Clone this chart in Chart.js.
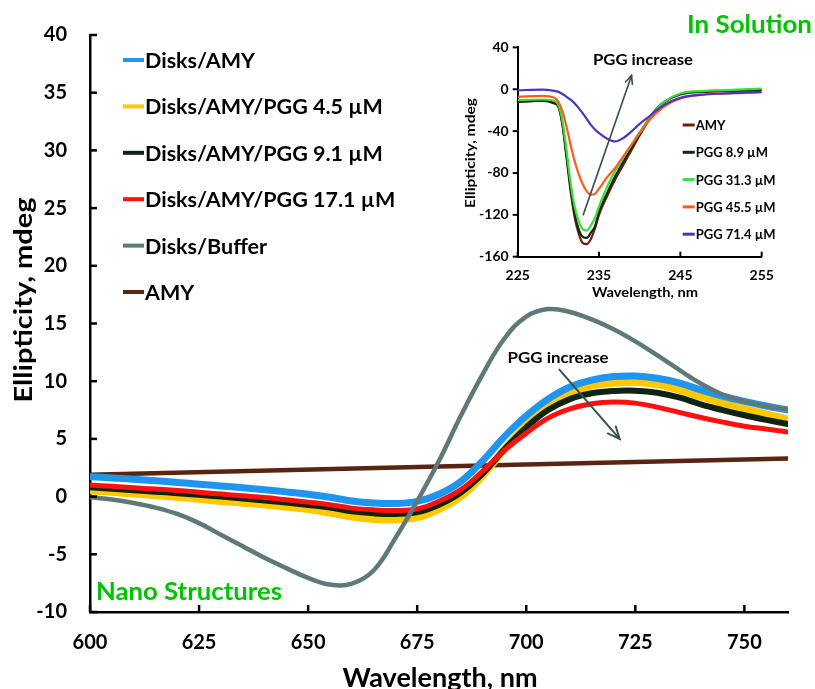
<!DOCTYPE html>
<html>
<head>
<meta charset="utf-8">
<script src="https://cdn.jsdelivr.net/npm/chart.js@4.4.1/dist/chart.umd.min.js"></script>
<style>
  html, body { margin: 0; padding: 0; background: #fff; }
  #wrap { position: relative; width: 815px; height: 689px; overflow: hidden; }
  #main { position: absolute; left: 0; top: 0; }
  #inset { position: absolute; left: 455px; top: 30px; }
</style>
</head>
<body>
<div id="wrap">
  <canvas id="main" width="815" height="689"></canvas>
  <canvas id="inset" width="330" height="275"></canvas>
</div>
<script>
// ---------- Main panel data (Nano Structures) ----------
const mainXTicks = [600, 625, 650, 675, 700, 725, 750];
const mainYTicks = [-10, -5, 0, 5, 10, 15, 20, 25, 30, 35, 40];
const mainWavelengths = [600, 605, 610, 615, 620, 625, 630, 635, 640, 645, 650, 655, 660, 665, 670, 675, 680, 685, 690, 695, 700, 705, 710, 715, 720, 725, 730, 735, 740, 745, 750, 755, 760];
const disksAmy       = [1.73, 1.62, 1.5, 1.37, 1.23, 1.08, 0.92, 0.77, 0.6, 0.41, 0.2, -0.05, -0.38, -0.56, -0.6, -0.42, 0.2, 1.3, 3.1, 5.2, 7.0, 8.45, 9.5, 10.1, 10.4, 10.45, 10.25, 9.85, 9.25, 8.7, 8.25, 7.85, 7.5];
const disksAmyPgg45  = [0.52, 0.39, 0.25, 0.1, -0.05, -0.22, -0.4, -0.55, -0.7, -0.9, -1.1, -1.4, -1.75, -1.95, -2.0, -1.8, -1.1, 0.0, 1.8, 4.1, 6.2, 7.9, 9.0, 9.6, 9.85, 9.9, 9.7, 9.25, 8.65, 8.1, 7.6, 7.15, 6.7];
const disksAmyPgg91  = [0.8, 0.68, 0.55, 0.43, 0.3, 0.15, 0.0, -0.16, -0.33, -0.52, -0.72, -0.95, -1.28, -1.45, -1.5, -1.35, -0.7, 0.35, 2.0, 4.1, 6.0, 7.5, 8.45, 8.95, 9.15, 9.17, 9.0, 8.6, 8.0, 7.5, 7.05, 6.65, 6.28];
const disksAmyPgg171 = [1.0, 0.89, 0.77, 0.65, 0.53, 0.38, 0.22, 0.07, -0.08, -0.28, -0.48, -0.7, -1.0, -1.15, -1.2, -1.08, -0.4, 0.6, 2.2, 4.0, 5.5, 6.8, 7.6, 8.05, 8.2, 8.1, 7.75, 7.3, 6.85, 6.45, 6.1, 5.85, 5.6];
const disksBuffer    = [-0.06, -0.25, -0.55, -0.95, -1.5, -2.3, -3.3, -4.3, -5.3, -6.2, -7.05, -7.62, -7.55, -6.4, -3.6, -0.4, 3.1, 7.0, 10.6, 13.7, 15.6, 16.25, 16.0, 15.35, 14.5, 13.45, 12.25, 11.0, 9.8, 8.85, 8.25, 7.85, 7.6];
const amyWavelengths = [600, 680, 760];
const amyMain = [1.9, 2.6, 3.3];
// arrow "PGG increase" (start wl, start val, end wl, end val)
const mainArrow = [707.6, 11.0, 721.4, 5.0];

// ---------- Inset data (In Solution) ----------
const insetXTicks = [225, 235, 245, 255];
const insetYTicks = [-160, -120, -80, -40, 0, 40];
const insetWavelengths = [225, 228, 229.5, 230, 230.5, 231, 231.5, 232, 232.5, 233, 233.5, 234, 234.5, 235, 236, 237, 238, 239, 240, 241, 242, 243, 245, 248, 250, 255];
const insetAmy    = [-12, -11, -13.5, -16.7, -34, -65, -97, -122, -138, -147, -148, -143, -133, -120, -102, -86, -72, -58, -44, -31, -20, -12.5, -5, -2.5, -1.9, -1];
const insetPgg89  = [-12, -11, -13, -16, -33, -63, -94, -119, -134, -141, -142, -137, -131, -117, -99, -83, -69, -56, -43, -30, -19, -12, -4.5, -2, -1.5, -0.5];
const insetPgg313 = [-10.4, -9.8, -11, -15, -30, -58, -89, -112, -126, -134, -135, -130, -123, -112, -93, -78, -65, -53, -41, -30, -19.5, -12, -4, -1.5, -1, 0.6];
const insetPgg455 = [-7.2, -6.3, -8.2, -12, -21, -35.6, -53, -68.7, -81, -90.7, -97.6, -100.8, -100, -95, -84, -75, -64, -53, -42, -31, -23, -16.5, -8.8, -5, -4.1, -3.1];
const insetPgg714 = [-1, -0.3, -1.5, -2.5, -4.5, -7.2, -10, -13.5, -18, -23, -28.5, -34, -38.5, -42, -47.2, -49.8, -46.6, -40.3, -33, -27, -20.5, -15, -8.2, -5, -4.1, -2.5];
const insetArrow = [233.07, -119.8, 239.0, 13.2];

const FONT = 'Lato, "Open Sans", sans-serif';
const pairs = (xs, ys) => xs.map((x, i) => ({ x, y: ys[i] }));

function drawText(ctx, t, x, y) {
  ctx.save();
  ctx.font = t.font; ctx.fillStyle = t.color || '#000';
  ctx.textAlign = t.align || 'center'; ctx.textBaseline = t.baseline || 'middle';
  ctx.translate(x, y);
  if (t.rot) ctx.rotate(t.rot);
  if (t.fit) ctx.scale(t.fit / ctx.measureText(t.text).width, 1);
  ctx.fillText(t.text, 0, 0);
  ctx.restore();
}

// plugin: inward ticks, arrows, texts, custom legend
const decor = {
  id: 'decor',
  afterDraw(chart, args, o) {
    const { ctx, chartArea: a } = chart;
    const xs = chart.scales.x, ys = chart.scales.y;
    ctx.save();
    ctx.strokeStyle = '#000';
    ctx.lineWidth = o.tickWidth;
    xs.ticks.forEach(t => {
      const p = xs.getPixelForValue(t.value);
      ctx.beginPath(); ctx.moveTo(p, a.bottom); ctx.lineTo(p, a.bottom - o.xTickLen); ctx.stroke();
    });
    ys.ticks.forEach(t => {
      const p = ys.getPixelForValue(t.value);
      ctx.beginPath(); ctx.moveTo(a.left, p); ctx.lineTo(a.left + o.yTickLen, p); ctx.stroke();
    });
    (o.arrows || []).forEach(ar => {
      const x1 = xs.getPixelForValue(ar.pts[0]), y1 = ys.getPixelForValue(ar.pts[1]);
      const x2 = xs.getPixelForValue(ar.pts[2]), y2 = ys.getPixelForValue(ar.pts[3]);
      ctx.strokeStyle = ar.color; ctx.lineWidth = ar.width; ctx.lineCap = 'round';
      ctx.beginPath(); ctx.moveTo(x1, y1); ctx.lineTo(x2, y2); ctx.stroke();
      const ang = Math.atan2(y2 - y1, x2 - x1);
      ctx.beginPath();
      ctx.moveTo(x2 - ar.head * Math.cos(ang - 0.42), y2 - ar.head * Math.sin(ang - 0.42));
      ctx.lineTo(x2, y2);
      ctx.lineTo(x2 - ar.head * Math.cos(ang + 0.42), y2 - ar.head * Math.sin(ang + 0.42));
      ctx.stroke();
    });
    (o.dataTexts || []).forEach(t => drawText(ctx, t, xs.getPixelForValue(t.x), ys.getPixelForValue(t.y)));
    (o.texts || []).forEach(t => drawText(ctx, t, t.px, t.py));
    const L = o.legend;
    if (L) {
      chart.data.datasets.forEach((ds, i) => {
        const y = L.y0 + i * L.step;
        ctx.strokeStyle = ds.borderColor; ctx.lineWidth = L.lineW; ctx.lineCap = 'butt';
        ctx.beginPath(); ctx.moveTo(L.x0, y); ctx.lineTo(L.x0 + L.len, y); ctx.stroke();
        ctx.font = L.font; ctx.textAlign = 'left'; ctx.textBaseline = 'middle'; ctx.fillStyle = '#000';
        ctx.fillText(ds.label, L.x0 + L.len + L.gap, y + 1);
      });
    }
    ctx.restore();
  }
};

function fixedTicks(arr) { return scale => { scale.ticks = arr.map(v => ({ value: v })); }; }

// ---------- Main chart ----------
new Chart(document.getElementById('main'), {
  type: 'line',
  data: {
    datasets: [
      { label: 'Disks/AMY', data: pairs(mainWavelengths, disksAmy), borderColor: '#1f95f0', borderWidth: 7, order: 1 },
      { label: 'Disks/AMY/PGG 4.5 \u00b5M', data: pairs(mainWavelengths, disksAmyPgg45), borderColor: '#ffc800', borderWidth: 7.5, order: 4 },
      { label: 'Disks/AMY/PGG 9.1 \u00b5M', data: pairs(mainWavelengths, disksAmyPgg91), borderColor: '#0f2410', borderWidth: 6, order: 3 },
      { label: 'Disks/AMY/PGG 17.1 \u00b5M', data: pairs(mainWavelengths, disksAmyPgg171), borderColor: '#ff1010', borderWidth: 5, order: 2 },
      { label: 'Disks/Buffer', data: pairs(mainWavelengths, disksBuffer), borderColor: '#5f7878', borderWidth: 4.5, order: 0 },
      { label: 'AMY', data: pairs(amyWavelengths, amyMain), borderColor: '#5a2410', borderWidth: 4.5, order: 5, tension: 0 }
    ]
  },
  options: {
    responsive: false, animation: false, devicePixelRatio: 1,
    layout: { padding: { left: 0, top: 33, right: 27, bottom: 0 } },
    elements: { point: { radius: 0 }, line: { tension: 0.4, cubicInterpolationMode: 'default', borderCapStyle: 'round', borderJoinStyle: 'round' } },
    plugins: {
      legend: { display: false }, tooltip: { enabled: false },
      decor: {
        tickWidth: 2.5, xTickLen: 7, yTickLen: 7,
        arrows: [{ pts: mainArrow, color: '#34504f', width: 2, head: 13 }],
        dataTexts: [{ text: 'PGG increase', x: 707.3, y: 12.0, font: 'bold 16px ' + FONT, color: '#000', fit: 101 }],
        texts: [
          { text: 'Nano Structures', px: 96, py: 592, align: 'left', font: 'bold 24px ' + FONT, color: '#00c400', fit: 186 },
          { text: 'In Solution', px: 812, py: 25, align: 'right', font: 'bold 24px ' + FONT, color: '#00c400', fit: 125 },
          { text: 'Ellipticity, mdeg', px: 24, py: 300, rot: -Math.PI / 2, font: 'bold 24px ' + FONT, fit: 205 },
          { text: 'Wavelength, nm', px: 440, py: 687, baseline: 'alphabetic', font: 'bold 27px ' + FONT, fit: 195 }
        ],
        legend: { x0: 123, len: 21, gap: 1, y0: 60, step: 46.4, lineW: 4, font: 'bold 21.5px ' + FONT }
      }
    },
    scales: {
      x: {
        type: 'linear', min: 600, max: 760,
        afterBuildTicks: fixedTicks(mainXTicks),
        afterFit: s => { s.height = 77; },
        grid: { display: false, drawTicks: false },
        border: { display: true, color: '#000', width: 2.5 },
        ticks: { padding: 19, color: '#000', font: { family: FONT, size: 20, weight: 'bold' }, maxRotation: 0 }
      },
      y: {
        type: 'linear', min: -10, max: 40,
        afterBuildTicks: fixedTicks(mainYTicks),
        afterFit: s => { s.width = 90; },
        grid: { display: false, drawTicks: false },
        border: { display: true, color: '#000', width: 2.5 },
        ticks: { padding: 23, color: '#000', font: { family: FONT, size: 20, weight: 'bold' } }
      }
    }
  },
  plugins: [decor]
});

// ---------- Inset chart ----------
new Chart(document.getElementById('inset'), {
  type: 'line',
  data: {
    datasets: [
      { label: 'AMY', data: pairs(insetWavelengths, insetAmy), borderColor: '#6e2010', order: 4 },
      { label: 'PGG 8.9 \u00b5M', data: pairs(insetWavelengths, insetPgg89), borderColor: '#142814', order: 3 },
      { label: 'PGG 31.3 \u00b5M', data: pairs(insetWavelengths, insetPgg313), borderColor: '#3ae03a', order: 2 },
      { label: 'PGG 45.5 \u00b5M', data: pairs(insetWavelengths, insetPgg455), borderColor: '#ff5a1e', order: 1 },
      { label: 'PGG 71.4 \u00b5M', data: pairs(insetWavelengths, insetPgg714), borderColor: '#4a35c0', order: 0 }
    ]
  },
  options: {
    responsive: false, animation: false, devicePixelRatio: 1,
    layout: { padding: { left: 0, top: 15, right: 23.3, bottom: 0 } },
    elements: { point: { radius: 0 }, line: { tension: 0.4, cubicInterpolationMode: 'monotone', borderWidth: 2.2 } },
    plugins: {
      legend: { display: false }, tooltip: { enabled: false },
      decor: {
        tickWidth: 2, xTickLen: 5, yTickLen: -5,
        arrows: [{ pts: insetArrow, color: '#34504f', width: 1.6, head: 9 }],
        dataTexts: [{ text: 'PGG increase', x: 240.4, y: 27.4, font: 'bold 15px ' + FONT, color: '#000', fit: 100 }],
        texts: [
          { text: 'Ellipticity, mdeg', px: 15, py: 123, rot: -Math.PI / 2, font: 'bold 14px ' + FONT, fit: 110 },
          { text: 'Wavelength, nm', px: 190, py: 262, font: 'bold 14px ' + FONT, fit: 106 }
        ],
        legend: { x0: 227.7, len: 12, gap: 1, y0: 95, step: 27.3, lineW: 3, font: 'bold 13px ' + FONT }
      }
    },
    scales: {
      x: {
        type: 'linear', min: 225, max: 255,
        afterBuildTicks: fixedTicks(insetXTicks),
        afterFit: s => { s.height = 48.3; },
        grid: { display: false, drawTicks: false },
        border: { display: true, color: '#000', width: 2 },
        ticks: { padding: 10, color: '#000', font: { family: FONT, size: 14, weight: 'bold' }, maxRotation: 0 }
      },
      y: {
        type: 'linear', min: -160, max: 40,
        afterBuildTicks: fixedTicks(insetYTicks),
        afterFit: s => { s.width = 62.7; },
        grid: { display: false, drawTicks: false },
        border: { display: true, color: '#000', width: 2 },
        ticks: { padding: 9, color: '#000', font: { family: FONT, size: 14, weight: 'bold' } }
      }
    }
  },
  plugins: [decor]
});
</script>
</body>
</html>
